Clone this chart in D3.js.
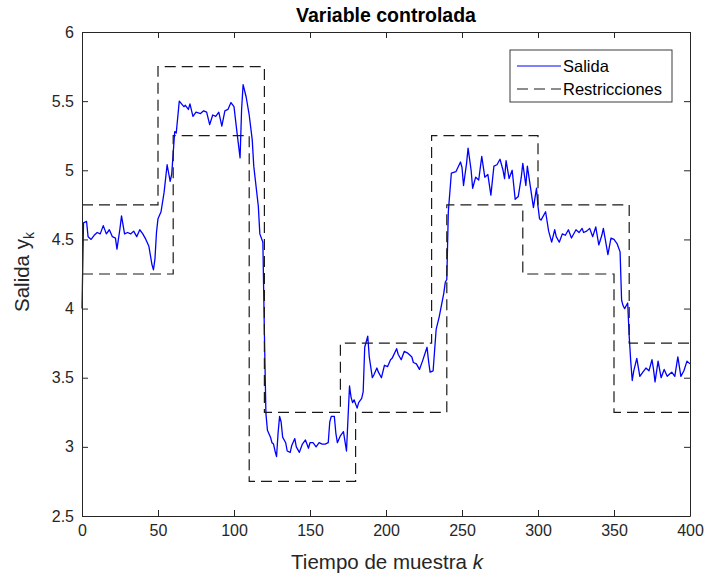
<!DOCTYPE html>
<html>
<head>
<meta charset="utf-8">
<script src="https://cdn.jsdelivr.net/npm/d3@7"></script>
<style>
  html, body { margin: 0; padding: 0; background: #fff; }
  svg { display: block; font-family: "Liberation Sans", Arial, Helvetica, sans-serif; }
</style>
</head>
<body>
<svg id="chart" width="705" height="575"></svg>
<script>
// Sample instants k and measured output y_k
const kSalida = [
  0, 1, 3, 4, 6, 8, 10, 12, 14, 16, 18, 20, 22, 23, 25, 26, 28, 30, 32, 34, 36, 38, 40, 42, 44, 46, 47, 48, 49,
  50, 52, 54, 56, 58, 59, 61, 62, 64, 67, 68, 70, 71, 73, 75, 78, 80, 82, 84, 86, 88, 90, 92, 94, 96, 98, 100,
  102, 104, 105, 106, 108, 110, 112, 113, 116, 117, 119, 120, 121, 122, 124, 125, 126, 127, 128, 129, 130, 131,
  132, 134, 135, 137, 138, 140, 141, 143, 145, 147, 149, 150, 152, 154, 156, 158, 160, 162, 163, 164, 166, 167,
  168, 170, 172, 174, 176, 177, 178, 179, 181, 182, 184, 185, 186, 188, 189, 191, 192, 194, 195, 197, 199, 201,
  203, 204, 207, 208, 210, 212, 214, 216, 217, 218, 220, 222, 224, 227, 228, 229, 231, 233, 235, 238, 239, 240,
  241, 243, 246, 249, 250, 251, 253, 254, 256, 257, 259, 261, 263, 265, 267, 269, 271, 273, 275, 277, 278, 279,
  281, 283, 285, 287, 289, 290, 292, 293, 295, 297, 299, 300, 301, 302, 305, 307, 309, 311, 312, 314, 316, 318,
  320, 322, 324, 325, 327, 329, 330, 332, 334, 336, 338, 340, 342, 343, 346, 348, 350, 352, 354, 355, 356, 357,
  359, 360, 361, 362, 363, 365, 367, 369, 371, 373, 375, 376, 377, 379, 381, 383, 385, 387, 388, 390, 392, 394,
  396, 398, 400
];
const ySalida = [
  4.00, 4.62, 4.63, 4.52, 4.50, 4.53, 4.55, 4.54, 4.60, 4.54, 4.57, 4.52, 4.51, 4.43, 4.58, 4.67, 4.54, 4.55, 4.54, 4.56, 4.52, 4.57, 4.54, 4.50, 4.45, 4.32, 4.28, 4.36, 4.55,
  4.65, 4.70, 4.84, 5.04, 4.92, 4.97, 5.28, 5.27, 5.50, 5.46, 5.47, 5.44, 5.48, 5.39, 5.42, 5.41, 5.43, 5.42, 5.33, 5.40, 5.39, 5.42, 5.32, 5.43, 5.44, 5.49, 5.46,
  5.27, 5.09, 5.44, 5.62, 5.53, 5.40, 5.22, 5.03, 4.74, 4.54, 4.48, 3.82, 3.24, 3.12, 3.07, 3.03, 3.02, 2.97, 2.93, 3.10, 3.22, 3.18,
  3.07, 3.03, 2.97, 2.96, 3.01, 3.06, 3.00, 2.96, 3.02, 3.05, 2.99, 3.03, 3.03, 3.00, 3.03, 3.02, 3.02, 3.03, 3.18, 3.22, 3.22, 3.10,
  3.03, 3.08, 3.11, 2.97, 3.44, 3.36, 3.32, 3.34, 3.28, 3.32, 3.35, 3.40, 3.72, 3.80, 3.65, 3.50, 3.52, 3.57, 3.54, 3.50, 3.59, 3.58,
  3.63, 3.64, 3.71, 3.67, 3.63, 3.69, 3.68, 3.66, 3.65, 3.61, 3.60, 3.56, 3.62, 3.72, 3.62, 3.54, 3.55, 3.85, 3.94, 4.11, 4.19, 4.21,
  4.70, 4.98, 4.99, 5.06, 5.02, 4.89, 5.05, 5.16, 5.00, 4.87, 4.95, 4.93, 5.10, 4.95, 4.97, 4.82, 5.03, 5.04, 5.08, 5.00, 4.94, 5.07,
  4.94, 5.00, 4.79, 4.81, 4.95, 5.05, 4.89, 5.03, 4.88, 4.73, 4.87, 4.74, 4.65, 4.64, 4.70, 4.56, 4.48, 4.57, 4.52, 4.48, 4.54, 4.53,
  4.57, 4.51, 4.55, 4.57, 4.55, 4.58, 4.55, 4.56, 4.58, 4.52, 4.59, 4.46, 4.53, 4.58, 4.39, 4.51, 4.50, 4.47, 4.41, 4.06, 4.02, 4.00,
  4.04, 3.80, 3.62, 3.48, 3.55, 3.64, 3.51, 3.54, 3.57, 3.55, 3.63, 3.56, 3.47, 3.62, 3.50, 3.56, 3.51, 3.53, 3.54, 3.51, 3.65, 3.51,
  3.55, 3.62, 3.60
];

// Constraint bands: piecewise-constant limits, each value holds from its start instant
const kSuperior = [0, 50, 120, 170, 230, 300, 360, 400];
const ySuperior = [4.75, 5.75, 3.25, 3.75, 5.25, 4.75, 3.75, 3.75];
const kInferior = [0, 60, 110, 180, 240, 290, 350, 400];
const yInferior = [4.25, 5.25, 2.75, 3.25, 4.75, 4.25, 3.25, 3.25];

const xTicks = [0, 50, 100, 150, 200, 250, 300, 350, 400];
const yTicks = [2.5, 3, 3.5, 4, 4.5, 5, 5.5, 6];
const xTickLabels = ["0", "50", "100", "150", "200", "250", "300", "350", "400"];
const yTickLabels = ["2.5", "3", "3.5", "4", "4.5", "5", "5.5", "6"];

const svg = d3.select("#chart");
const plotLeft = 82, plotRight = 690, plotTop = 32, plotBottom = 516;
const axisColor = "#262626";

const x = d3.scaleLinear().domain([0, 400]).range([plotLeft, plotRight]);
const y = d3.scaleLinear().domain([2.5, 6]).range([plotBottom, plotTop]);

const plot = svg.append("g");

// Output signal
const salida = kSalida.map((k, i) => [k, ySalida[i]]);
plot.append("path")
  .datum(salida)
  .attr("fill", "none")
  .attr("stroke", "#0000ff")
  .attr("stroke-width", 1.3)
  .attr("stroke-linejoin", "round")
  .attr("d", d3.line().x(d => x(d[0])).y(d => y(d[1])));

// Upper and lower constraints
const stepLine = d3.line().curve(d3.curveStepAfter).x(d => x(d[0])).y(d => y(d[1]));
[[kSuperior, ySuperior], [kInferior, yInferior]].forEach(([ks, ys]) => {
  plot.append("path")
    .datum(ks.map((k, i) => [k, ys[i]]))
    .attr("fill", "none")
    .attr("stroke", "#1a1a1a")
    .attr("stroke-width", 1.2)
    .attr("stroke-dasharray", "11,6")
    .attr("d", stepLine);
});

// Axes: box with inward ticks on all four sides
function styleAxis(g) {
  g.selectAll("path.domain").attr("stroke", axisColor).attr("stroke-width", 1);
  g.selectAll(".tick line").attr("stroke", axisColor).attr("stroke-width", 1);
  g.selectAll(".tick text").attr("fill", axisColor).style("font-size", "16px")
    .style("font-family", "'Liberation Sans', Arial, sans-serif");
}

svg.append("g")
  .attr("transform", `translate(0,${plotBottom})`)
  .call(d3.axisBottom(x).tickValues(xTicks).tickFormat((d, i) => xTickLabels[i])
    .tickSizeInner(-6).tickSizeOuter(0).tickPadding(9))
  .call(styleAxis);

svg.append("g")
  .attr("transform", `translate(0,${plotTop})`)
  .call(d3.axisBottom(x).tickValues(xTicks).tickFormat("")
    .tickSizeInner(6).tickSizeOuter(0))
  .call(styleAxis);

svg.append("g")
  .attr("transform", `translate(${plotLeft},0)`)
  .call(d3.axisLeft(y).tickValues(yTicks).tickFormat((d, i) => yTickLabels[i])
    .tickSizeInner(-6).tickSizeOuter(0).tickPadding(8))
  .call(styleAxis);

svg.append("g")
  .attr("transform", `translate(${plotRight},0)`)
  .call(d3.axisLeft(y).tickValues(yTicks).tickFormat("")
    .tickSizeInner(6).tickSizeOuter(0))
  .call(styleAxis);

// Title and axis labels
svg.append("text")
  .attr("x", 386)
  .attr("y", 22)
  .attr("text-anchor", "middle")
  .attr("fill", "#000")
  .style("font-size", "19.5px")
  .style("font-weight", "bold")
  .text("Variable controlada");

const xLabel = svg.append("text")
  .attr("x", 387)
  .attr("y", 569)
  .attr("text-anchor", "middle")
  .attr("fill", axisColor)
  .style("font-size", "20.5px");
xLabel.append("tspan").text("Tiempo de muestra ");
xLabel.append("tspan").style("font-style", "italic").text("k");

const yLabel = svg.append("text")
  .attr("transform", `translate(29,272) rotate(-90)`)
  .attr("text-anchor", "middle")
  .attr("fill", axisColor)
  .style("font-size", "20.5px");
yLabel.append("tspan").text("Salida y");
yLabel.append("tspan").attr("dy", 5).style("font-size", "14px").text("k");

// Legend
const legend = svg.append("g").attr("transform", "translate(510,50)");
legend.append("rect")
  .attr("width", 162).attr("height", 52)
  .attr("fill", "#fff")
  .attr("stroke", axisColor).attr("stroke-width", 0.9);
const items = [
  { label: "Salida", color: "#0000ff", dash: null },
  { label: "Restricciones", color: "#1a1a1a", dash: "11,6" }
];
items.forEach((it, i) => {
  const cy = 16 + i * 23;
  legend.append("line")
    .attr("x1", 7).attr("x2", 51).attr("y1", cy).attr("y2", cy)
    .attr("stroke", it.color).attr("stroke-width", 1.2)
    .attr("stroke-dasharray", it.dash);
  legend.append("text")
    .attr("x", 53).attr("y", cy + 6)
    .attr("fill", "#000")
    .style("font-size", "16.5px")
    .text(it.label);
});
</script>
</body>
</html>
